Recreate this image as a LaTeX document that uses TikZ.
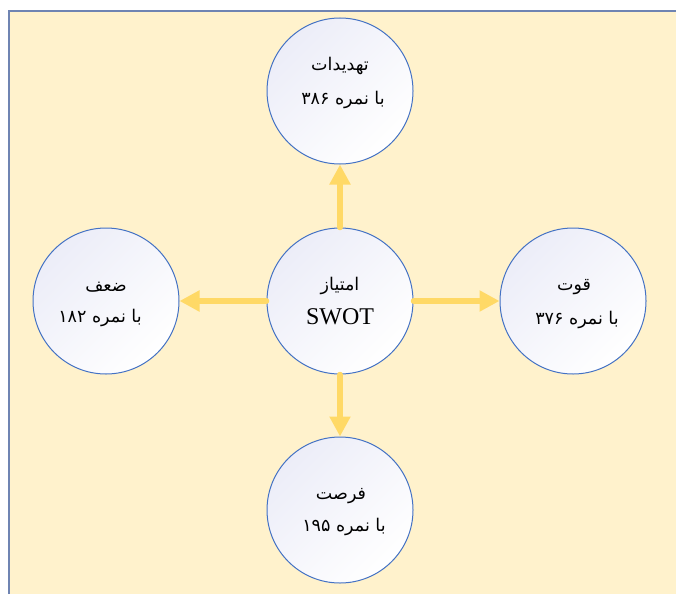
\documentclass[tikz,border=0pt]{standalone}
\usepackage{fontspec}
\usetikzlibrary{arrows.meta}
\setmainfont{Liberation Serif}
\newfontfamily\arabicfont[Script=Arabic]{DejaVu Sans}
\TeXXeTstate=1
\definecolor{bgyellow}{HTML}{FFF2CC}
\definecolor{frameblue}{HTML}{6F84B2}
\definecolor{circblue}{HTML}{4472C4}
\definecolor{lav}{HTML}{ECEDF8}
\definecolor{arrowyellow}{HTML}{FFD966}
\tikzset{
  bubble/.style={circle, draw=circblue, line width=1pt, minimum size=146pt, inner sep=0pt,
    top color=lav, bottom color=white, shading angle=45},
  artext/.style={font=\arabicfont\fontsize{17.5}{20}\selectfont, inner sep=0pt},
  latext/.style={font=\fontsize{24}{28}\selectfont, inner sep=0pt},
  link/.style={draw=arrowyellow, line width=5.5pt, line cap=round,
    -{Triangle[length=20pt,width=20pt]}}
}
\begin{document}
\begin{tikzpicture}[x=1pt,y=-1pt]
\useasboundingbox (0,0) rectangle (676,594);
\fill[white] (0,0) rectangle (676,594);
\fill[bgyellow] (8,10) rectangle (676,594);
\draw[frameblue, line width=2pt] (9,594) -- (9,11) -- (676,11);

\node[bubble] (t) at (340,91) {};
\node[bubble] (c) at (340,301) {};
\node[bubble] (l) at (106,301) {};
\node[bubble] (r) at (573,301) {};
\node[bubble] (b) at (340,510) {};

\node[artext] (t1) at (340,66) {\beginR تهدیدات\endR};
\node[artext] (t2) at (343,100) {\beginR با نمره ۳۸۶\endR};
\node[artext] (c1) at (340,286) {\beginR امتیاز\endR};
\node[latext] (c2) at (340,317) {SWOT};
\node[artext] (l1) at (106,287) {\beginR ضعف\endR};
\node[artext] (l2) at (100,318) {\beginR با نمره ۱۸۲\endR};
\node[artext] (r1) at (574,287) {\beginR قوت\endR};
\node[artext] (r2) at (577,320) {\beginR با نمره ۳۷۶\endR};
\node[artext] (b1) at (341,496) {\beginR فرصت\endR};
\node[artext] (b2) at (344,527) {\beginR با نمره ۱۹۵\endR};

\draw[link] (c.north) -- (t.south);
\draw[link] (c.south) -- (b.north);
\draw[link] (c.west) -- (l.east);
\draw[link] (c.east) -- (r.west);
\end{tikzpicture}
\end{document}
